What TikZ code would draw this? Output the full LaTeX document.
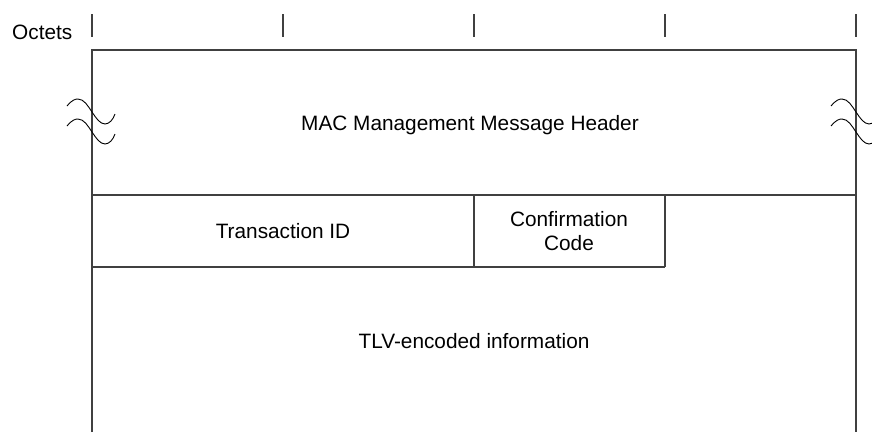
\documentclass[tikz,border=0pt]{standalone}
\usepackage{fontspec}
\setmainfont{Liberation Sans}
\begin{document}
\begin{tikzpicture}[x=1pt,y=-1pt,
  ln/.style={line width=1.2pt,draw=black!75},
  wave/.style={line width=0.9pt,draw=black},
  lbl/.style={font=\fontsize{20.8}{25}\selectfont,align=center,inner sep=0pt}]
\useasboundingbox (0,0) rectangle (872,432);
% ticks
\foreach \x/\n in {92/a,283/b,474/c,665/d,856/e}{
  \coordinate (t\n1) at (\x,14);
  \coordinate (t\n2) at (\x,37);
  \draw[ln] (t\n1) -- (t\n2);
}
\node[lbl,anchor=west] (oct) at (12,32) {Octets};
% frame
\coordinate (tl) at (92,50);
\coordinate (tr) at (856,50);
\coordinate (bl) at (92,432);
\coordinate (br) at (856,432);
\draw[ln] (bl) -- (tl) -- (tr) -- (br);
\coordinate (ml) at (92,195);
\coordinate (mr) at (856,195);
\draw[ln] (ml) -- (mr);
\coordinate (rl) at (92,267);
\coordinate (rc) at (474,267);
\coordinate (rd) at (665,267);
\draw[ln] (rl) -- (rd);
\coordinate (c1) at (474,195);
\coordinate (d1) at (665,195);
\draw[ln] (c1) -- (rc);
\draw[ln] (d1) -- (rd);
% waves
\foreach \xx in {92,856}{
  \foreach \yy in {0,20}{
    \draw[wave] (\xx-25,106+\yy) .. controls (\xx-20,100+\yy) and (\xx-17,99+\yy) .. (\xx-14,99+\yy)
      .. controls (\xx-8,99+\yy) and (\xx-4,106+\yy) .. (\xx,112+\yy)
      .. controls (\xx+4,118+\yy) and (\xx+8,124+\yy) .. (\xx+13,124+\yy)
      .. controls (\xx+17,124+\yy) and (\xx+21,120+\yy) .. (\xx+23,114+\yy);
  }
}
% labels
\node[lbl] (hdr) at (470,125) {MAC Management Message Header};
\node[lbl] (tid) at (283,231) {Transaction ID};
\node[lbl] (cc) at (569,231) {Confirmation\\[-1pt]Code};
\node[lbl] (tlv) at (474,341) {TLV-encoded information};
\end{tikzpicture}
\end{document}
